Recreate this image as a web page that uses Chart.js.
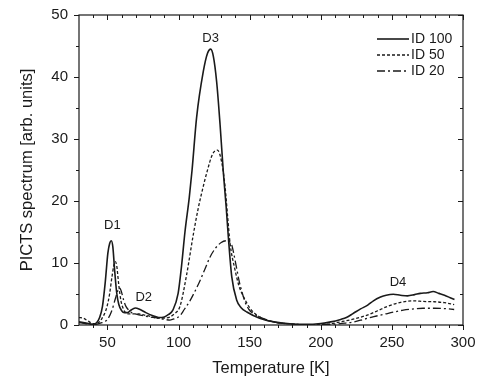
<!DOCTYPE html>
<html>
<head>
<meta charset="utf-8">
<script src="https://cdn.jsdelivr.net/npm/chart.js@4.4.1/dist/chart.umd.min.js"></script>
<style>
  html, body { margin: 0; padding: 0; background: #fff; }
  canvas { display: block; }
</style>
</head>
<body>
<canvas id="c" width="480" height="378"></canvas>
<script>
// データ
const temp100 = [30,35,40,42.5,44.5,46.5,48.5,50.3,51.6,52.7,53.8,55,56.5,58,60,62,64,66,69.5,73,77,82,86,90,93,96,99.7,102,104.5,107.5,109.5,112.7,117.4,120.3,122.6,124.5,126.8,129.2,131.5,133.5,135,137.4,140.9,144,148,157,167,180,190,200,207,214,218,223,228,233,237,242,246,251,256,261,266,270,275,279,283,287,291,294];
const id100   = [0.5,0.3,0.1,0.4,1.2,3.0,7.0,11.6,13.2,13.6,12.6,9.0,5.2,3.3,2.3,2.0,2.0,2.3,2.75,2.5,2.0,1.5,1.2,1.3,1.7,2.4,5.1,9.3,15,20.5,25,33.5,40.9,43.8,44.5,43.3,39.2,32.3,24.6,19,14.2,7.8,4,2.8,2.1,1.1,0.5,0.15,0.1,0.25,0.5,0.9,1.2,1.9,2.6,3.2,3.9,4.5,4.8,4.95,4.8,4.7,4.9,5.1,5.2,5.4,5.1,4.8,4.4,4.1];

const temp50 = [30,33,36,40,43,46,49.6,51.5,53.2,54.5,55.5,56.5,57.9,59.5,61.4,64,68,72,76,80,85,90,94,97,101,105.6,110.3,114,117,120,124,127.3,130.3,132.7,134.5,136.2,139.7,142.5,145.6,150.3,157,167,180,190,200,207,213.8,222,232.7,240,246.8,256.2,265.6,272,279.7,287,293.8];
const id50   = [1.2,1.1,0.7,0.2,0.3,1.0,2.9,5,7.8,9.6,10.2,9.6,6.6,3.9,2.5,1.8,1.8,1.8,1.6,1.4,1.1,1.1,1.3,1.8,3,8,14.5,19,22,24.7,27.6,28.2,26.3,22.3,17.5,13.2,8.9,6.3,4.6,2.7,1.3,0.5,0.15,0.05,0.1,0.2,0.5,0.9,1.6,2.3,3.0,3.65,3.9,3.8,3.75,3.6,3.3];

const temp20 = [30,35,40,45,50,53.2,55.5,57.4,58.4,59.5,61.4,63,64.9,67,69.6,75,80,86,90,94,97,101,104,108,111,115,118.5,122,126,130,134,136,137.4,139,140.9,142.5,144.5,147,149.5,153,158,167,180,190,200,210,217,223.2,230,237.3,244,251.5,258,265.6,272,279.7,287,293.8];
const id20   = [0.4,0.2,0.05,0.3,0.9,2.4,4.2,5.6,6.0,5.6,4,3,2.4,2.0,1.8,1.5,1.3,1.1,0.9,0.8,1.0,1.5,2.5,3.9,5.2,7.1,9,10.9,12.4,13.3,13.6,13.4,12.9,11.3,9.1,7.2,5.4,3.6,2.5,1.8,1.2,0.5,0.15,0.05,0.05,0.15,0.3,0.5,0.9,1.35,1.7,2.1,2.4,2.6,2.7,2.7,2.65,2.5];

const seriesNames = ["ID 100", "ID 50", "ID 20"];
const xTicks = [50,100,150,200,250,300];
const yTicks = [0,10,20,30,40,50];
const peakLabels = ["D1","D2","D3","D4"];
const peakT      = [53.5, 75.5, 122.5, 254.3];
const peakY      = [16.1, 4.5, 46.3, 6.8];

const FONT = "'Liberation Sans', Arial, sans-serif";
const INK = "#1a1a1a";
const dashes = [[], [3,2], [8,3,2,3]];
const widths = [1.6, 1.3, 1.3];

function toPts(xs, ys) { return xs.map((x, i) => ({ x, y: ys[i] })); }

// 目盛り・枠・ラベル・凡例
const frameTicks = {
  id: "frameTicks",
  afterDraw(chart) {
    const { ctx, chartArea: a, scales: { x, y } } = chart;
    ctx.save();
    ctx.strokeStyle = INK;
    ctx.lineWidth = 1.2;
    ctx.strokeRect(a.left, a.top, a.right - a.left, a.bottom - a.top);
    ctx.lineWidth = 1;
    ctx.beginPath();
    for (let t = 40; t <= 300; t += 10) {
      const px = Math.round(x.getPixelForValue(t)) + 0.5;
      const len = t % 50 === 0 ? 5 : 3;
      ctx.moveTo(px, a.bottom); ctx.lineTo(px, a.bottom + len);
      ctx.moveTo(px, a.top); ctx.lineTo(px, a.top + len);
    }
    for (let v = 0; v <= 50; v += 5) {
      const py = Math.round(y.getPixelForValue(v)) + 0.5;
      const len = v % 10 === 0 ? 5 : 3;
      ctx.moveTo(a.left, py); ctx.lineTo(a.left - len, py);
      ctx.moveTo(a.right, py); ctx.lineTo(a.right - len, py);
    }
    ctx.stroke();

    ctx.fillStyle = INK;
    ctx.font = "13px " + FONT;
    ctx.textAlign = "center";
    ctx.textBaseline = "middle";
    peakLabels.forEach((s, i) => {
      ctx.fillText(s, x.getPixelForValue(peakT[i]), y.getPixelForValue(peakY[i]));
    });

    ctx.font = "14px " + FONT;
    ctx.textAlign = "left";
    seriesNames.forEach((s, i) => {
      const yy = a.top + 24 + i * 16;
      ctx.beginPath();
      ctx.setLineDash(dashes[i]);
      ctx.lineWidth = widths[i];
      ctx.moveTo(a.right - 86, yy);
      ctx.lineTo(a.right - 54, yy);
      ctx.stroke();
      ctx.setLineDash([]);
      ctx.fillText(s, a.right - 52, yy + 0.5);
    });
    ctx.restore();
  }
};

const datasets = [
  [temp100, id100], [temp50, id50], [temp20, id20]
].map(([xs, ys], i) => ({
  label: seriesNames[i],
  data: toPts(xs, ys),
  borderColor: INK,
  borderWidth: widths[i],
  borderDash: dashes[i],
  pointRadius: 0,
  fill: false,
  cubicInterpolationMode: "monotone"
}));

new Chart(document.getElementById("c"), {
  type: "line",
  data: { datasets },
  options: {
    responsive: false,
    animation: false,
    layout: { padding: { left: 0, right: 17, top: 15, bottom: 0 } },
    plugins: { legend: { display: false }, tooltip: { enabled: false } },
    scales: {
      x: {
        type: "linear",
        min: 30, max: 300,
        afterBuildTicks: s => { s.ticks = xTicks.map(v => ({ value: v })); },
        afterFit: s => { s.height = 53; s.paddingLeft = 0; s.paddingRight = 0; },
        grid: { display: false, drawTicks: false },
        border: { display: false },
        ticks: { color: INK, font: { family: FONT, size: 15 }, padding: 9, maxRotation: 0 },
        title: { display: true, text: "Temperature [K]", color: INK, font: { family: FONT, size: 16.5 }, padding: { top: 0, bottom: 0 } }
      },
      y: {
        min: 0, max: 50,
        afterBuildTicks: s => { s.ticks = yTicks.map(v => ({ value: v })); },
        afterFit: s => { s.width = 79; s.paddingTop = 0; s.paddingBottom = 0; },
        grid: { display: false, drawTicks: false },
        border: { display: false },
        ticks: { color: INK, font: { family: FONT, size: 15 }, padding: 11 },
        title: { display: true, text: "PICTS spectrum [arb. units]", color: INK, font: { family: FONT, size: 16.5 }, padding: { top: 18, bottom: 0 } }
      }
    }
  },
  plugins: [frameTicks]
});
</script>
</body>
</html>
